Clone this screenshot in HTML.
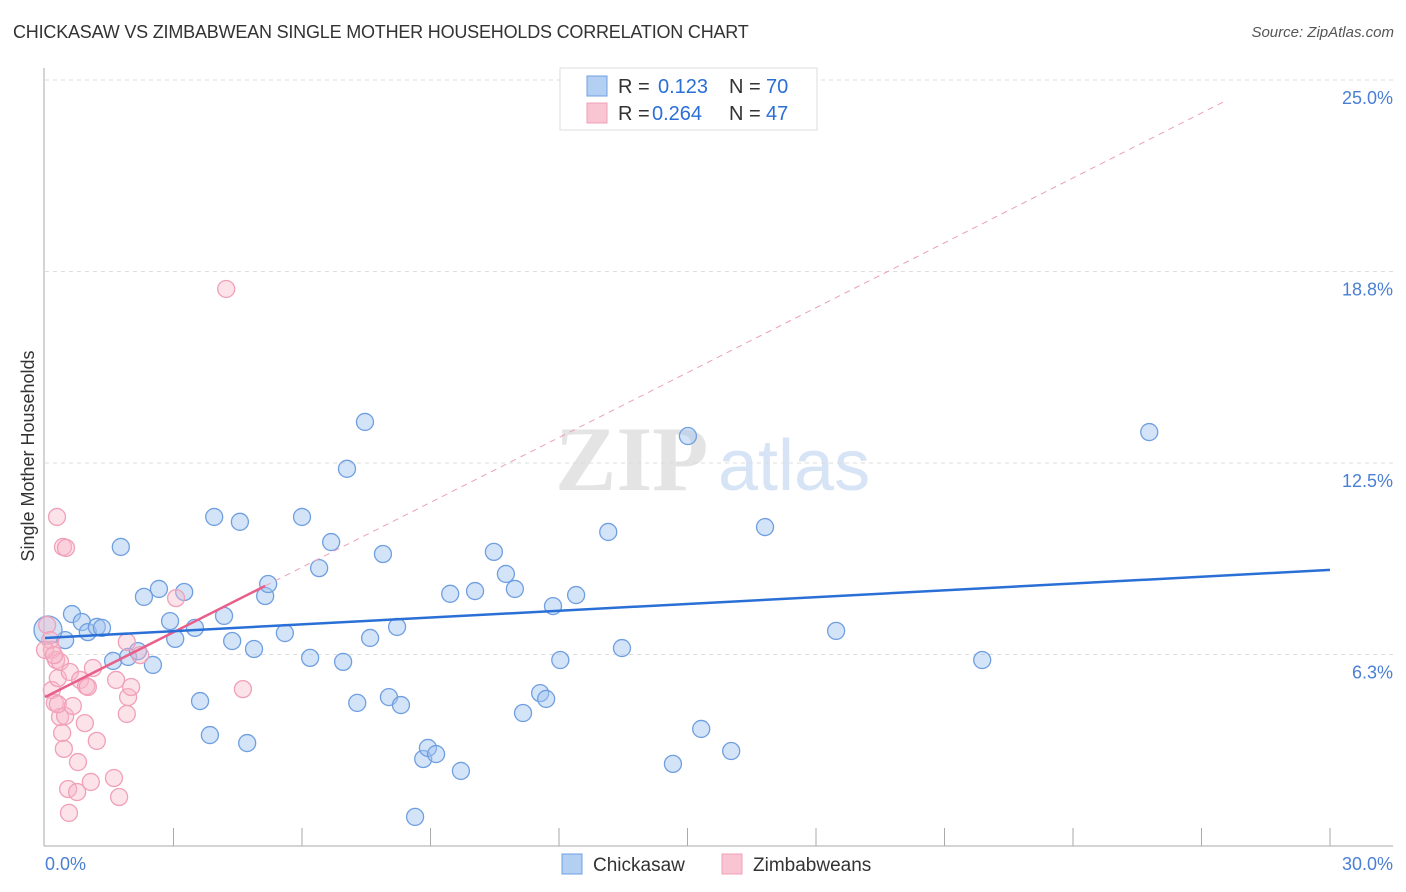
<!DOCTYPE html>
<html><head><meta charset="utf-8">
<style>
body{margin:0;background:#fff;font-family:"Liberation Sans",sans-serif;}
#wrap{position:relative;width:1406px;height:892px;overflow:hidden;}
.t{position:absolute;white-space:nowrap;}
</style></head>
<body>
<div id="wrap">
<div class="t" style="left:13px;top:22px;font-size:18px;color:#333;letter-spacing:-0.2px;">CHICKASAW VS ZIMBABWEAN SINGLE MOTHER HOUSEHOLDS CORRELATION CHART</div>
<div class="t" style="right:12px;top:24px;font-size:15px;color:#555;font-style:italic;">Source: ZipAtlas.com</div>
<svg id="chart" width="1406" height="892" style="position:absolute;left:0;top:0"></svg>
</div>
<script>
const xTicks=[0,3,6,9,12,15,18,21,24,27,30];
const yTicks=[6.25,12.5,18.75,25];
const yTickLabels=["6.3%","12.5%","18.8%","25.0%"];
const blueX=[0.63,0.86,0.47,1.00,1.21,1.33,1.77,1.59,1.94,2.17,2.52,2.31,2.66,2.92,3.04,3.25,3.50,3.62,3.85,3.95,4.18,4.37,4.55,4.72,4.88,5.14,5.21,5.60,6.00,6.19,6.40,6.68,6.96,7.05,7.29,7.47,7.59,7.89,8.03,8.22,8.31,8.64,8.83,8.94,9.13,9.46,9.71,10.04,10.48,10.76,10.97,11.16,11.56,11.70,11.86,12.03,12.40,13.15,13.36,13.47,14.66,15.01,15.32,16.02,16.81,18.47,21.88,25.78,0.07];
const blueY=[7.57,7.31,6.72,6.98,7.15,7.12,9.76,6.04,6.17,6.36,5.91,8.13,8.39,7.34,6.76,8.29,7.12,4.73,3.62,10.74,7.51,6.69,10.58,3.36,6.43,8.16,8.55,6.95,10.74,6.14,9.07,9.92,6.01,12.31,4.67,13.84,6.79,9.53,4.86,7.15,4.60,0.95,2.84,3.20,3.00,8.23,2.45,8.32,9.60,8.88,8.39,4.34,4.99,4.80,7.83,6.07,8.19,10.25,23.76,6.46,2.68,13.38,3.82,3.10,10.41,7.02,6.07,13.51,7.05];
const pinkX=[0.28,0.42,0.49,0.05,0.12,0.16,0.26,0.35,0.16,0.30,0.23,0.35,0.47,0.40,0.44,0.30,0.58,0.65,0.77,0.82,0.96,0.93,1.00,1.12,1.21,0.54,0.75,1.07,0.56,1.61,1.73,1.66,1.91,1.94,1.91,2.01,2.22,3.06,4.23,4.62,0.0,0.21];
const pinkY=[10.74,9.76,9.73,7.21,6.72,6.40,6.07,6.01,5.09,5.48,4.67,4.21,4.24,3.69,3.17,4.63,5.68,4.57,2.74,5.42,5.22,4.01,5.19,5.81,3.43,1.86,1.76,2.09,1.08,2.22,1.60,5.42,6.66,4.86,4.31,5.19,6.23,8.09,18.18,5.12,6.40,6.23];
const blueTrend=[6.79,9.01];
const pinkTrend=[4.86,0.706];

const NS="http://www.w3.org/2000/svg";
const svg=document.getElementById('chart');
const X0=45,X1=1330,Y0=846,YS=191.5/6.25;
function sx(v){return X0+(X1-X0)*v/30;}
function sy(v){return Y0-v*YS;}
function el(tag,attrs,parent){const e=document.createElementNS(NS,tag);for(const k in attrs)e.setAttribute(k,attrs[k]);(parent||svg).appendChild(e);return e;}

// watermark
let w=el('text',{x:555,y:490,'font-size':92,'font-family':'Liberation Serif, serif',fill:'#e4e4e4','font-weight':'bold'});


w.textContent='ZIP';
let w2=el('text',{x:718,y:490,'font-size':72,'font-family':'Liberation Sans, sans-serif',fill:'#d6e4f5'});


w2.textContent='atlas';

// gridlines
yTicks.forEach((t,i)=>{
 let g=el('line',{x1:45,x2:1393,y1:sy(t),y2:sy(t),stroke:'#ddd','stroke-dasharray':'4,4'});
 
 
 let lb=el('text',{x:1393,y:sy(t)+24,'text-anchor':'end','font-size':18,fill:'#4a7fd4'});
 
 
 lb.textContent=yTickLabels[i];
});
// axes
let ax=el('line',{x1:44,x2:44,y1:68,y2:846,stroke:'#aaa'});


let bx=el('line',{x1:44,x2:1393,y1:846,y2:846,stroke:'#aaa'});


xTicks.forEach(t=>{
 if(t===0)return;
 let tk=el('line',{x1:sx(t),x2:sx(t),y1:828,y2:846,stroke:'#aaa'});
 
 
});
let xl0=el('text',{x:45,y:870,'font-size':18,fill:'#4a7fd4'});


xl0.textContent='0.0%';
let xl1=el('text',{x:1393,y:870,'font-size':18,fill:'#4a7fd4','text-anchor':'end'});


xl1.textContent='30.0%';
let yt=el('text',{x:34,y:456,'font-size':18,fill:'#333','text-anchor':'middle',transform:'rotate(-90 34 456)'});


yt.textContent='Single Mother Households';

// points
blueX.forEach((v,i)=>{
 let c=el('circle',{cx:sx(v),cy:sy(blueY[i]),r:(i===blueX.length-1)?14:8.5,fill:'rgba(160,196,240,0.45)',stroke:'#6f9fe0','stroke-width':1.3});
 
 
});
pinkX.forEach((v,i)=>{
 let c=el('circle',{cx:sx(v),cy:sy(pinkY[i]),r:8.5,fill:'rgba(248,182,200,0.4)',stroke:'#f0a0b8','stroke-width':1.3});
 
 
});
// trends
let pd=el('line',{x1:sx(5.14),y1:sy(pinkTrend[0]+pinkTrend[1]*5.14),x2:sx(27.55),y2:sy(pinkTrend[0]+pinkTrend[1]*27.55),stroke:'#eaa0b8','stroke-dasharray':'6,5','stroke-width':1});


let ps=el('line',{x1:sx(0),y1:sy(pinkTrend[0]),x2:sx(5.14),y2:sy(pinkTrend[0]+pinkTrend[1]*5.14),stroke:'#e8608a','stroke-width':2.5});


let bl=el('line',{x1:sx(0),y1:sy(blueTrend[0]),x2:sx(30),y2:sy(blueTrend[1]),stroke:'#2a6fd6','stroke-width':2.5});



// legend box
let lg=el('rect',{x:560,y:68,width:257,height:62,fill:'#fff',stroke:'#ddd'});


const rows=[["0.123","70","rgba(160,196,240,0.8)","#6f9fe0"],["0.264","47","rgba(248,182,200,0.8)","#f0a0b8"]];
rows.forEach((r,i)=>{
 const y=86+i*27;
 let s=el('rect',{x:587,y:y-10,width:20,height:20,fill:r[2],stroke:r[3]});
 
 
 let t=el('text',{x:618,y:y+7,'font-size':20,fill:'#333'});
 
 
 t.innerHTML='R = <tspan fill="#2a6fd6" x="'+(i===0?658:652)+'">'+r[0]+'</tspan><tspan fill="#333" x="729">N = </tspan><tspan fill="#2a6fd6" x="766">'+r[1]+'</tspan>';
});
// bottom legend
[["Chickasaw",562,"rgba(160,196,240,0.8)","#6f9fe0"],["Zimbabweans",722,"rgba(248,182,200,0.8)","#f0a0b8"]].forEach(r=>{
 let s=el('rect',{x:r[1],y:854,width:20,height:20,fill:r[2],stroke:r[3]});
 
 
 let t=el('text',{x:r[1]+31,y:871,'font-size':19,fill:'#333'});
 
 
 t.textContent=r[0];
});
</script>
</body></html>
